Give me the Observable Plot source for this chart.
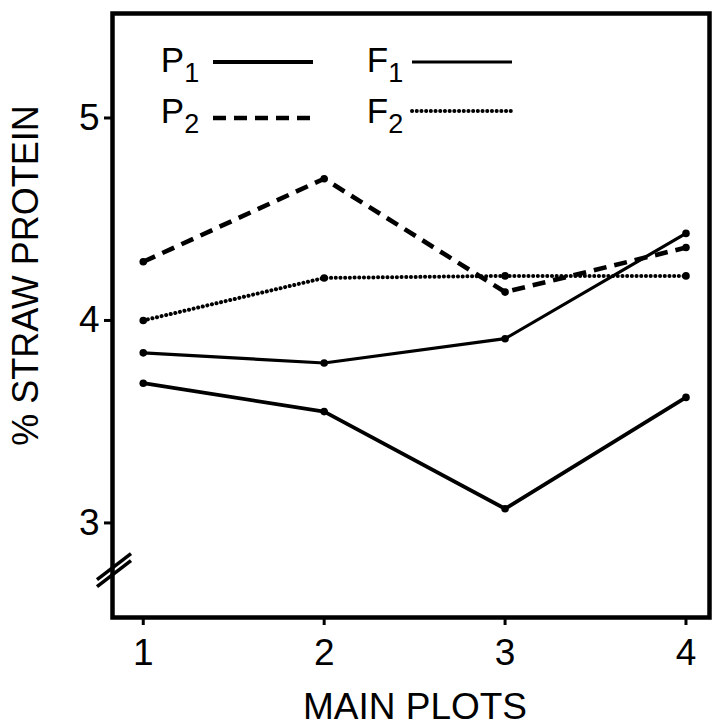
<!DOCTYPE html>
<html><head><meta charset="utf-8">
<script src="https://cdn.jsdelivr.net/npm/d3@7"></script>
<script src="https://cdn.jsdelivr.net/npm/@observablehq/plot@0.6"></script>
<style>body{margin:0;background:#fff}</style>
</head><body><div id="chart"></div>
<script>
// Data
const mainPlots = [1, 2, 3, 4];
const P1 = [3.69, 3.55, 3.07, 3.62];
const P2 = [4.29, 4.70, 4.14, 4.36];
const F1 = [3.84, 3.79, 3.91, 4.43];
const F2 = [4.00, 4.21, 4.22, 4.22];
const seriesNames = ["P1", "P2", "F1", "F2"];
const seriesLetters = ["P", "P", "F", "F"];
const seriesSubs = ["1", "2", "1", "2"];
const seriesValues = [P1, P2, F1, F2];
const xTicks = [1, 2, 3, 4];
const yTicks = [3, 4, 5];
const xTitle = "MAIN PLOTS";
const yTitle = "% STRAW PROTEIN";
const breakAt = 2.765;

const styles = {
  P1: {strokeWidth: 3.8, dash: null, cap: "butt"},
  P2: {strokeWidth: 4.6, dash: "13,8", cap: "butt"},
  F1: {strokeWidth: 3.2, dash: null, cap: "butt"},
  F2: {strokeWidth: 4, dash: "0.1,4.6", cap: "round"}
};

const rows = seriesNames.flatMap((s, i) => mainPlots.map((x, j) => ({series: s, x, y: seriesValues[i][j]})));

const FONT = "Liberation Sans, Arial, Helvetica, sans-serif";

function breakMark(index, scales, values, dims) {
  const g = d3.create("svg:g");
  const cx = dims.marginLeft + 2, cy = scales.y(breakAt);
  for (const off of [-3.5, 3.5]) {
    g.append("line")
      .attr("x1", cx - 17).attr("y1", cy + off + 13)
      .attr("x2", cx + 17).attr("y2", cy + off - 13)
      .attr("stroke", "black").attr("stroke-width", 3.5);
  }
  return g.node();
}

// legend layout (pixels relative to frame's left/top)
const legendCols = [68, 273];   // letter left edge
const legendRows = [59, 110];   // letter baseline
function legendMark(index, scales, values, dims) {
  const g = d3.create("svg:g").attr("font-family", FONT);
  const left = dims.marginLeft, top = dims.marginTop;
  seriesNames.forEach((s, i) => {
    const col = i < 2 ? 0 : 1, row = i % 2;
    const x = left + legendCols[col], yb = top + legendRows[row];
    const t = g.append("text").attr("x", x).attr("y", yb).attr("font-size", 35).attr("fill", "black");
    t.append("tspan").text(seriesLetters[i]);
    t.append("tspan").attr("font-size", 27).attr("dy", 10).text(seriesSubs[i]);
    const st = styles[s];
    const lx1 = x + (col === 0 ? 33 : 27);
    const lx2 = lx1 + 100;
    const ly = yb - (row === 0 ? 10 : (col === 0 ? 5 : 12));
    const ln = g.append("line").attr("x1", lx1).attr("x2", lx2).attr("y1", ly).attr("y2", ly)
      .attr("stroke", "black").attr("stroke-width", st.strokeWidth).attr("stroke-linecap", st.cap);
    if (st.dash) ln.attr("stroke-dasharray", st.dash);
  });
  return g.node();
}

const lineMarks = seriesNames.map(s => Plot.line(rows.filter(d => d.series === s), {
  x: "x", y: "y", stroke: "black",
  strokeWidth: styles[s].strokeWidth,
  strokeDasharray: styles[s].dash,
  strokeLinecap: styles[s].cap
}));

const chart = Plot.plot({
  width: 712,
  height: 726,
  marginLeft: 112,
  marginRight: 3,
  marginTop: 13,
  marginBottom: 109,
  style: {fontFamily: FONT, background: "white", color: "black"},
  x: {domain: [0.83, 4.13]},
  y: {domain: [2.533, 5.516]},
  marks: [
    ...lineMarks,
    Plot.dot(rows, {x: "x", y: "y", r: 3.8, fill: "black"}),
    Plot.frame({stroke: "black", strokeWidth: 4.5}),
    Plot.axisY({ticks: yTicks, tickFormat: d => String(d), tickSize: 8, tickPadding: 5, fontSize: 37, label: null, strokeWidth: 3}),
    Plot.axisX({ticks: xTicks, tickFormat: d => String(d), tickSize: 8, tickPadding: 13, fontSize: 37, label: null, strokeWidth: 3}),
    Plot.text([yTitle], {text: d => d, frameAnchor: "left", textAnchor: "middle", lineAnchor: "middle", dx: -86, dy: -40, rotate: -90, fontSize: 36, fill: "black"}),
    Plot.text([xTitle], {text: d => d, frameAnchor: "bottom", textAnchor: "middle", lineAnchor: "middle", dx: 4, dy: 90, fontSize: 37, fill: "black"}),
    breakMark,
    legendMark
  ]
});
document.getElementById("chart").append(chart);
</script>
</body></html>
